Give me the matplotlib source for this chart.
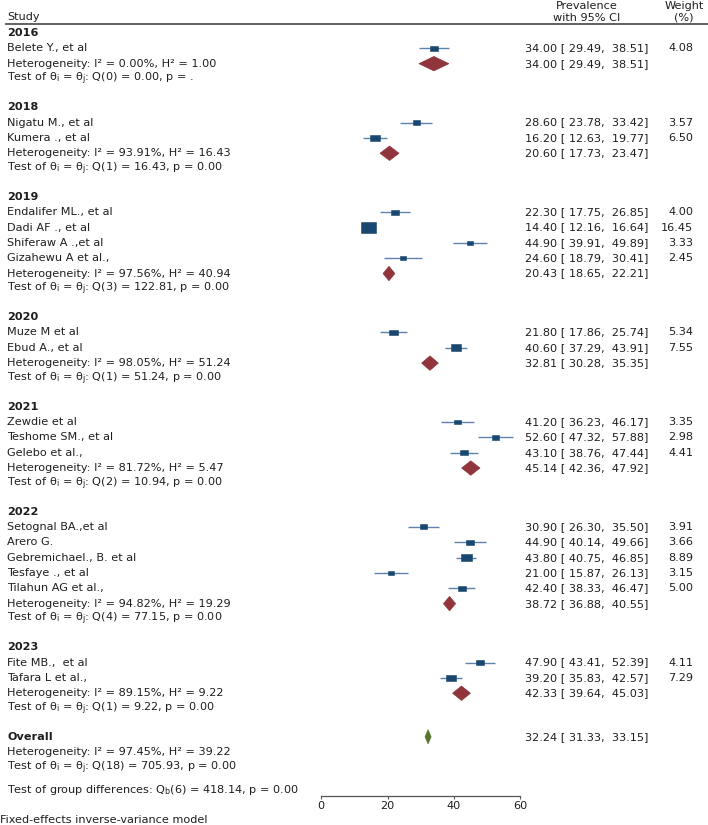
import matplotlib
matplotlib.use("Agg")
import matplotlib.pyplot as plt
from matplotlib.patches import Rectangle, Polygon
import matplotlib.transforms as mtransforms
import numpy as np

# ---- data ----
study_names = ["Belete Y., et al",
               "Nigatu M., et al", "Kumera ., et al",
               "Endalifer ML., et al", "Dadi AF ., et al", "Shiferaw A .,et al",
               "Gizahewu A et al.,",
               "Muze M et al", "Ebud A., et al",
               "Zewdie et al", "Teshome SM., et al", "Gelebo et al.,",
               "Setognal BA.,et al", "Arero G.", "Gebremichael., B. et al",
               "Tesfaye ., et al", "Tilahun AG et al.,",
               "Fite MB.,  et al", "Tafara L et al.,"]
study_year = [2016, 2018, 2018, 2019, 2019, 2019, 2019, 2020, 2020,
              2021, 2021, 2021, 2022, 2022, 2022, 2022, 2022, 2023, 2023]
study_est = [34.00, 28.60, 16.20, 22.30, 14.40, 44.90, 24.60, 21.80, 40.60,
             41.20, 52.60, 43.10, 30.90, 44.90, 43.80, 21.00, 42.40, 47.90, 39.20]
study_lo = [29.49, 23.78, 12.63, 17.75, 12.16, 39.91, 18.79, 17.86, 37.29,
            36.23, 47.32, 38.76, 26.30, 40.14, 40.75, 15.87, 38.33, 43.41, 35.83]
study_hi = [38.51, 33.42, 19.77, 26.85, 16.64, 49.89, 30.41, 25.74, 43.91,
            46.17, 57.88, 47.44, 35.50, 49.66, 46.85, 26.13, 46.47, 52.39, 42.57]
study_weight = [4.08, 3.57, 6.50, 4.00, 16.45, 3.33, 2.45, 5.34, 7.55,
                3.35, 2.98, 4.41, 3.91, 3.66, 8.89, 3.15, 5.00, 4.11, 7.29]

group_years = [2016, 2018, 2019, 2020, 2021, 2022, 2023]
group_est = [34.00, 20.60, 20.43, 32.81, 45.14, 38.72, 42.33]
group_lo = [29.49, 17.73, 18.65, 30.28, 42.36, 36.88, 39.64]
group_hi = [38.51, 23.47, 22.21, 35.35, 47.92, 40.55, 45.03]
group_i2 = [0.00, 93.91, 97.56, 98.05, 81.72, 94.82, 89.15]
group_h2 = [1.00, 16.43, 40.94, 51.24, 5.47, 19.29, 9.22]
group_q = [0.00, 16.43, 122.81, 51.24, 10.94, 77.15, 9.22]
group_df = [0, 1, 3, 1, 2, 4, 1]
group_p = [".", "0.00", "0.00", "0.00", "0.00", "0.00", "0.00"]

overall_est, overall_lo, overall_hi = 32.24, 31.33, 33.15
overall_i2, overall_h2 = 97.45, 39.22
overall_q, overall_df, overall_p = 705.93, 18, "0.00"
between_q, between_df, between_p = 418.14, 6, "0.00"

x_ticks = [0, 20, 40, 60]

# ---- style ----
plt.rcParams["font.family"] = ["DejaVu Sans"]
plt.rcParams["mathtext.fontset"] = "dejavusans"

FS = 8.1
NAVY = "#1a476f"
CI_COL = "#5d82ad"
MAROON = "#90353b"
GREEN = "#55752f"
TXT = "#1e1e1e"

W, H = 708, 825
PX_X0, PX_PER_UNIT = 321.3, 3.312   # pixel of x=0, pixels per unit
ROW0, ROW_H = 33.0, 15.34           # pixel of first row, row height
GAP = 1.84                          # row step between sections

fig = plt.figure(figsize=(W / 100, H / 100), dpi=100)
ax = fig.add_axes([0, 0, 1, 1])
ax.set_xlim(-PX_X0 / PX_PER_UNIT, (W - PX_X0) / PX_PER_UNIT)
ax.set_ylim((H - ROW0) / ROW_H, -ROW0 / ROW_H)
ax.patch.set_visible(False)

# text x positions in axes fraction, y in row units
tr = mtransforms.blended_transform_factory(ax.transAxes, ax.transData)
LEFT = 7 / W
VAL_X = 525 / W
WT_X = 693 / W


def label(y, s, bold=False):
    ax.text(LEFT, y, s, transform=tr, ha="left", va="center", fontsize=FS,
            color=TXT, fontweight="bold" if bold else "normal")


def value(y, est, lo, hi):
    ax.text(VAL_X, y, f"{est:5.2f} [{lo:6.2f}, {hi:6.2f}]", transform=tr,
            ha="left", va="center", fontsize=FS, color=TXT)


def diamond(y, est, lo, hi, color, half=0.47):
    ax.add_patch(Polygon([(lo, y), (est, y - half), (hi, y), (est, y + half)],
                         closed=True, facecolor=color, edgecolor=color,
                         lw=0.5, zorder=3))


def het_text(i2, h2):
    return f"Heterogeneity: I\u00b2 = {i2:.2f}%, H\u00b2 = {h2:.2f}"


def test_text(df, q, p):
    return (r"Test of $\mathregular{\theta_i}$ = $\mathregular{\theta_j}$: "
            f"Q({df}) = {q:.2f}, p = {p}")


# header
ax.text(LEFT, -1.04, "Study", transform=tr, ha="left", va="center",
        fontsize=FS, color=TXT)
ax.text(587 / W, -1.76, "Prevalence", transform=tr, ha="center", va="center",
        fontsize=FS, color=TXT)
ax.text(587 / W, -0.98, "with 95% CI", transform=tr, ha="center", va="center",
        fontsize=FS, color=TXT)
ax.text(684 / W, -1.76, "Weight", transform=tr, ha="center", va="center",
        fontsize=FS, color=TXT)
ax.text(684 / W, -0.98, "(%)", transform=tr, ha="center", va="center",
        fontsize=FS, color=TXT)
ax.axhline(-0.59, xmin=6 / W, xmax=1, color="#555555", lw=1.3)

names = np.array(study_names)
years = np.array(study_year)
est = np.array(study_est)
lo = np.array(study_lo)
hi = np.array(study_hi)
wt = np.array(study_weight)

k = 0.0
for g, yr in enumerate(group_years):
    label(k, str(yr), bold=True)
    k += 1
    for i in np.where(years == yr)[0]:
        label(k, names[i])
        ax.hlines(k, lo[i], hi[i], color=CI_COL, lw=1.0, zorder=2)
        side = np.sqrt(wt[i])
        bw = 3.7 * side / PX_PER_UNIT
        bh = 2.5 * side / ROW_H
        ax.add_patch(Rectangle((est[i] - bw / 2, k - bh / 2), bw, bh,
                               facecolor=NAVY, edgecolor=NAVY, lw=0.4,
                               zorder=3))
        value(k, est[i], lo[i], hi[i])
        ax.text(WT_X, k, f"{wt[i]:.2f}", transform=tr, ha="right",
                va="center", fontsize=FS, color=TXT)
        k += 1
    label(k, het_text(group_i2[g], group_h2[g]))
    diamond(k, group_est[g], group_lo[g], group_hi[g], MAROON)
    value(k, group_est[g], group_lo[g], group_hi[g])
    k += 1
    label(k, test_text(group_df[g], group_q[g], group_p[g]))
    k += GAP

# overall
label(k, "Overall", bold=True)
diamond(k, overall_est, overall_lo, overall_hi, GREEN, half=0.46)
value(k, overall_est, overall_lo, overall_hi)
k += 1
label(k, het_text(overall_i2, overall_h2))
k += 1
label(k, test_text(overall_df, overall_q, overall_p))
k += 1.5
label(k, r"Test of group differences: $\mathregular{Q_b}$"
         f"({between_df}) = {between_q:.2f}, p = {between_p}")

# x axis
axis_y = k + 0.36
for s in ["top", "left", "right"]:
    ax.spines[s].set_visible(False)
ax.spines["bottom"].set_position(("data", axis_y))
ax.spines["bottom"].set_bounds(x_ticks[0], x_ticks[-1])
ax.spines["bottom"].set_color("#555555")
ax.spines["bottom"].set_linewidth(0.9)
ax.set_xticks(x_ticks)
ax.set_xticklabels([str(t) for t in x_ticks])
ax.tick_params(axis="x", direction="out", length=2.5, width=0.8,
               colors="#555555", labelcolor=TXT, labelsize=FS, pad=1.0)
ax.set_yticks([])

fig.text(0.0, 1 - 820 / H, "Fixed-effects inverse-variance model",
         ha="left", va="center", fontsize=FS, color=TXT)

fig.savefig("out.png", dpi=100)
